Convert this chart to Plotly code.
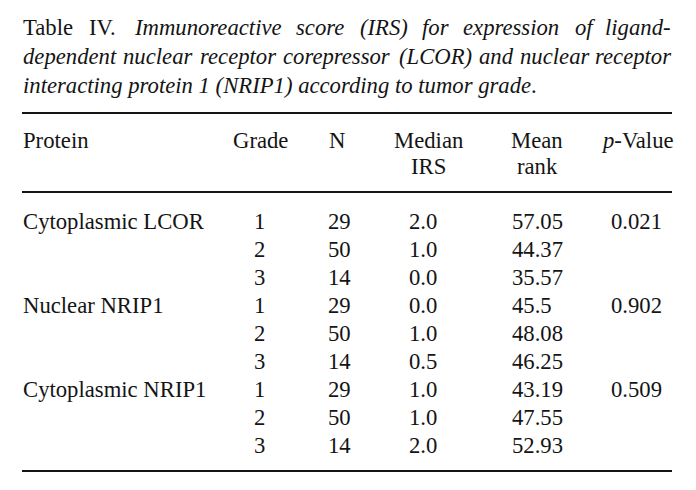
import plotly.graph_objects as go

# ---- data ----
title_prefix = "Table IV."
title_italic_lines = [
    "Immunoreactive score (IRS) for expression of ligand-",
    "dependent nuclear receptor corepressor (LCOR) and nuclear receptor",
    "interacting protein 1 (NRIP1) according to tumor grade",
]
title_suffix = "."
header_top = ["Protein", "Grade", "N", "Median", "Mean", "<i>p</i>-Value"]
header_bottom = ["", "", "", "IRS", "rank", ""]
proteins = ["Cytoplasmic LCOR", "", "", "Nuclear NRIP1", "", "", "Cytoplasmic NRIP1", "", ""]
grades = ["1", "2", "3", "1", "2", "3", "1", "2", "3"]
n_vals = ["29", "50", "14", "29", "50", "14", "29", "50", "14"]
median_irs = ["2.0", "1.0", "0.0", "0.0", "1.0", "0.5", "1.0", "1.0", "2.0"]
mean_rank = ["57.05", "44.37", "35.57", "45.5", "48.08", "46.25", "43.19", "47.55", "52.93"]
p_values = ["0.021", "", "", "0.902", "", "", "0.509", "", ""]

# ---- layout constants ----
W, H = 696, 490
OFF = 8  # page body margin
FONT = "Liberation Serif, Times New Roman, serif"
FS = 22.7
INK = "#141414"
LEFT, RIGHT = 22, 672
head_x = [LEFT, 260, 337, 428, 537, 637]
head_anchor = ["left", "center", "center", "center", "center", "center"]
val_x = [LEFT, 259, 339, 423, 511, 636]
val_anchor = ["left", "center", "center", "center", "left", "center"]
title_y = [27.5, 56.5, 85.5]
rule_y = [113, 192, 471]
head_y = [140, 166]
row_y0, row_step = 221, 28

# approximate Times glyph widths (per 1000 em) used to justify the caption
ROMAN = dict(zip("abcdefghijklmnopqrstuvwxyz",
                 [444, 500, 444, 500, 444, 333, 500, 500, 278, 278, 500, 278, 778,
                  500, 500, 500, 500, 333, 389, 278, 500, 500, 722, 500, 500, 444]))
ROMAN.update(dict(zip("ABCDEFGHIJKLMNOPQRSTUVWXYZ",
                      [722, 667, 667, 722, 611, 556, 722, 722, 333, 389, 722, 611, 889,
                       722, 722, 556, 722, 667, 556, 611, 722, 722, 944, 722, 722, 611])))
ITALIC = dict(zip("abcdefghijklmnopqrstuvwxyz",
                  [500, 500, 444, 500, 444, 278, 500, 500, 278, 278, 444, 278, 722,
                   500, 500, 500, 500, 389, 389, 278, 500, 444, 667, 444, 444, 389]))
ITALIC.update(dict(zip("ABCDEFGHIJKLMNOPQRSTUVWXYZ",
                       [611, 611, 667, 722, 611, 611, 722, 722, 333, 444, 667, 556, 833,
                        667, 722, 611, 722, 611, 500, 556, 722, 611, 833, 611, 556, 556])))
for d in (ROMAN, ITALIC):
    d.update({str(k): 500 for k in range(10)})
    d.update({"(": 333, ")": 333, "-": 333, ".": 250, " ": 250})


def text_w(word, italic):
    tbl = ITALIC if italic else ROMAN
    return sum(tbl.get(c, 500) for c in word) * FS / 1000.0


fig = go.Figure()
fig.add_trace(go.Scatter(x=[OFF, W + OFF], y=[OFF, H + OFF], mode="markers",
                         marker=dict(opacity=0), hoverinfo="skip", showlegend=False))

ann = []


def add(text, x, y, anchor):
    if text == "":
        return
    ann.append(dict(text=text, x=x, y=y, xref="x", yref="y", xanchor=anchor,
                    yanchor="middle", showarrow=False, borderpad=0,
                    font=dict(family=FONT, size=FS, color=INK)))


def justify(words, y):
    widths = [text_w(w, it) for w, it in words]
    gap = (RIGHT - LEFT - sum(widths)) / (len(words) - 1)
    x = LEFT
    for i, (w, it) in enumerate(words):
        label = f"<i>{w}</i>" if it else w
        if i == len(words) - 1:
            add(label, RIGHT, y, "right")
        else:
            add(label, x, y, "left")
        x += widths[i] + gap


line1 = [(w, False) for w in title_prefix.split()] + \
        [(w, True) for w in title_italic_lines[0].split()]
line2 = [(w, True) for w in title_italic_lines[1].split()]
justify(line1, title_y[0])
justify(line2, title_y[1])
add(f"<i>{title_italic_lines[2]}</i>{title_suffix}", LEFT, title_y[2], "left")

for j in range(6):
    add(header_top[j], head_x[j], head_y[0], head_anchor[j])
    add(header_bottom[j], head_x[j], head_y[1], head_anchor[j])

columns = [proteins, grades, n_vals, median_irs, mean_rank, p_values]
for r in range(len(grades)):
    y = row_y0 + r * row_step
    for j, col in enumerate(columns):
        add(col[r], val_x[j], y, val_anchor[j])

shapes = [dict(type="line", xref="x", yref="y", x0=LEFT, x1=RIGHT, y0=y, y1=y,
               line=dict(color=INK, width=2)) for y in rule_y]

fig.update_layout(
    width=W, height=H, margin=dict(l=0, r=0, t=0, b=0),
    paper_bgcolor="white", plot_bgcolor="white",
    xaxis=dict(range=[OFF, W + OFF], visible=False, fixedrange=True),
    yaxis=dict(range=[H + OFF, OFF], visible=False, fixedrange=True),
    annotations=ann, shapes=shapes, showlegend=False,
)
fig.write_html("out.html", config={"displayModeBar": False})
